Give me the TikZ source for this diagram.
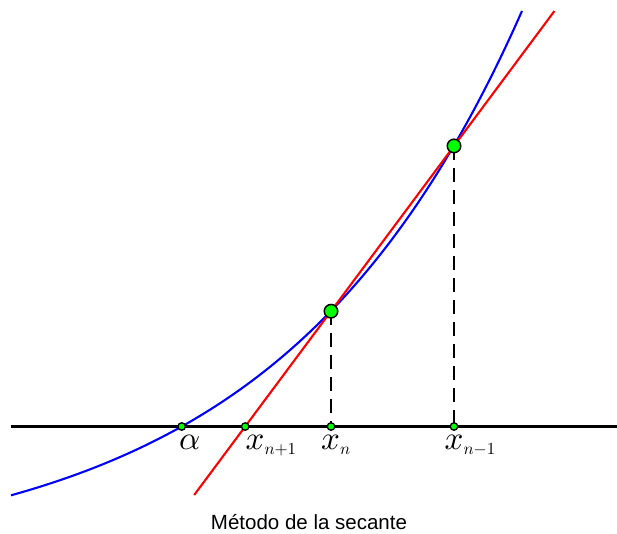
\documentclass[tikz,border=0pt]{standalone}
\usepackage{fontspec}
\newfontfamily\capfont{Liberation Sans}
\usetikzlibrary{calc}
\definecolor{ptgreen}{RGB}{0,255,0}
\newcommand{\biglabel}[1]{\scalebox{3.3}{$#1$}}
\newcommand{\lblsub}[2]{\scalebox{3.3}{$#1_{\scalebox{0.51}{$#2$}}$}}
\tikzset{
  axisline/.style={line width=2.1pt, black},
  fcurve/.style={line width=2.1pt, blue},
  secant/.style={line width=2.1pt, red},
  guide/.style={line width=2.1pt, black, dash pattern=on 14pt off 8pt},
  bigpt/.style={circle, fill=ptgreen, draw=black, line width=1.5pt, minimum size=13.5pt, inner sep=0pt},
  smallpt/.style={circle, fill=ptgreen, draw=black, line width=1.3pt, minimum size=7.5pt, inner sep=0pt},
  lbl/.style={anchor=base west, inner sep=0pt},
  captext/.style={anchor=base, inner sep=0pt, font=\capfont\fontsize{20.5}{24}\selectfont}
}
\begin{document}
\begin{tikzpicture}[x=1pt, y=-1pt]
\useasboundingbox (0,0) rectangle (617,533);
% coordinates
\coordinate (axL) at (11,426.5);
\coordinate (axR) at (617,426.5);
\coordinate (P1) at (331,311.2);
\coordinate (P2) at (454,145.95);
\coordinate (A) at (181.7,426.5);
\coordinate (X1) at (intersection of P1--P2 and axL--axR);
\coordinate (Xn) at (331,426.5);
\coordinate (Xm) at (454,426.5);
\coordinate (S0) at ($(P1)!-1.1123!(P2)$);
\coordinate (S1) at ($(P1)!1.8166!(P2)$);
% axis
\draw[axisline] (axL) -- (axR);
% guides
\draw[guide] (P1) -- (Xn);
\draw[guide] (P2) -- (Xm);
% curve
\draw[fcurve] plot[domain=11:522, samples=120] (\x, {426.5-136.6*(exp(0.0041*(\x-181.7))-1)});
% secant
\draw[secant] (S0) -- (S1);
% points
\node[bigpt] (p1) at (P1) {};
\node[bigpt] (p2) at (P2) {};
\node[smallpt] (pa) at (A) {};
\node[smallpt] (px1) at (X1) {};
\node[smallpt] (pxn) at (Xn) {};
\node[smallpt] (pxm) at (Xm) {};
% labels
\node[lbl] (la) at (179,449.5) {\biglabel{\alpha}};
\node[lbl] (lx1) at (245.5,449.5) {\lblsub{x}{n{+}1}};
\node[lbl] (lxn) at (321,449.5) {\lblsub{x}{n}};
\node[lbl] (lxm) at (444.5,449.5) {\lblsub{x}{n{-}1}};
% caption
\node[captext] (cap) at (309,529.3) {Método de la secante};
\end{tikzpicture}
\end{document}
